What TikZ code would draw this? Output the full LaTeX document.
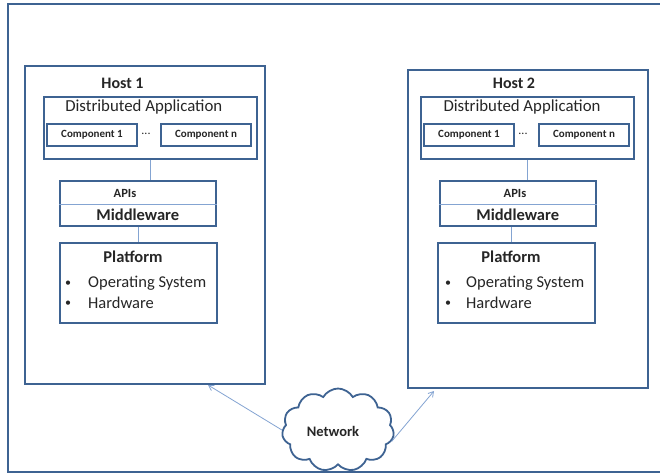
\documentclass[tikz,border=0pt]{standalone}
\usepackage{fontspec}
\setmainfont{Carlito}
\usetikzlibrary{shapes.symbols,arrows.meta}
\definecolor{frameblue}{HTML}{3E6392}
\definecolor{lineblue}{HTML}{84A4D2}
\tikzset{
  box/.style={draw=frameblue, line width=1.8pt, fill=white, rectangle, inner sep=0pt},
  conn/.style={draw=lineblue, line width=0.9pt},
  arr/.style={draw=lineblue, line width=0.8pt, -{Straight Barb[length=5pt,width=6pt]}},
  txt/.style={inner sep=0pt, text=black!85},
  comp/.style={box, minimum width=90pt, minimum height=22pt, font=\bfseries\fontsize{11}{12}\selectfont, text=black!85},
  bul/.style={txt, font=\fontsize{12}{14}\selectfont},
  item/.style={txt, anchor=west, font=\fontsize{16.5}{18}\selectfont},
}
\begin{document}
\begin{tikzpicture}[x=1pt,y=-1pt]
\useasboundingbox (0,0) rectangle (660,474);
\fill[white] (0,0) rectangle (660,474);
% outer frame (right edge off the page)
\draw[frameblue, line width=1.8pt] (8,4) rectangle (680,472);

% ---------- Host 1 ----------
\node[box, minimum width=240pt, minimum height=318pt] (h1) at (145,225) {};
\node[txt, font=\bfseries\fontsize{16}{18}\selectfont] (h1t) at (122.5,83.5) {Host 1};
\node[box, minimum width=213pt, minimum height=62pt] (da1) at (150.5,128) {};
\node[txt, font=\fontsize{16.8}{18}\selectfont] (da1t) at (143.8,107) {Distributed Application};
\node[comp] (c1a) at (92,135) {Component 1};
\node[txt, font=\fontsize{12}{14}\selectfont] (d1) at (146,134) {...};
\node[comp] (cna) at (206,135) {Component n};
\node[box, minimum width=156pt, minimum height=45pt] (mw1) at (138,203.5) {};
\draw[conn] (mw1.west |- 0,204) -- (mw1.east |- 0,204);
\node[txt, font=\bfseries\fontsize{12.5}{14}\selectfont] (api1) at (125,193) {APIs};
\node[txt, font=\bfseries\fontsize{16.5}{18}\selectfont] (mwt1) at (137.8,214.5) {Middleware};
\node[box, minimum width=157pt, minimum height=80pt] (pf1) at (138.5,283) {};
\node[txt, font=\bfseries\fontsize{16.5}{18}\selectfont] (pft1) at (133,257) {Platform};
\node[bul] (b1a) at (68,284) {\textbullet};
\node[item] (os1) at (88,283) {Operating System};
\node[bul] (b1b) at (68,304) {\textbullet};
\node[item] (hw1) at (88,303) {Hardware};
\draw[conn] (da1.south) -- (da1.south |- mw1.north);
\draw[conn] (mw1.south) -- (mw1.south |- pf1.north);

% ---------- Host 2 ----------
\node[box, minimum width=240pt, minimum height=318pt] (h2) at (528,229) {};
\node[txt, font=\bfseries\fontsize{16}{18}\selectfont] (h2t) at (514,83.5) {Host 2};
\node[box, minimum width=213pt, minimum height=62pt] (da2) at (527.5,128) {};
\node[txt, font=\fontsize{16.8}{18}\selectfont] (da2t) at (522,107) {Distributed Application};
\node[comp] (c1b) at (469,135) {Component 1};
\node[txt, font=\fontsize{12}{14}\selectfont] (d2) at (523,134) {...};
\node[comp] (cnb) at (584,135) {Component n};
\node[box, minimum width=156pt, minimum height=45pt] (mw2) at (518,203.5) {};
\draw[conn] (mw2.west |- 0,204) -- (mw2.east |- 0,204);
\node[txt, font=\bfseries\fontsize{12.5}{14}\selectfont] (api2) at (515,193) {APIs};
\node[txt, font=\bfseries\fontsize{16.5}{18}\selectfont] (mwt2) at (517.7,214.5) {Middleware};
\node[box, minimum width=157pt, minimum height=80pt] (pf2) at (516.5,283) {};
\node[txt, font=\bfseries\fontsize{16.5}{18}\selectfont] (pft2) at (511,257) {Platform};
\node[bul] (b2a) at (448,284) {\textbullet};
\node[item] (os2) at (466,283) {Operating System};
\node[bul] (b2b) at (448,304) {\textbullet};
\node[item] (hw2) at (466,303) {Hardware};
\draw[conn] (da2.south) -- (da2.south |- mw2.north);
\draw[conn] ([xshift=-7pt]mw2.south) -- ([xshift=-7pt]mw2.south |- pf2.north);

% ---------- Network ----------
\node[cloud, cloud puffs=11, cloud puff arc=120, draw=frameblue, line width=1.8pt, fill=white,
      minimum width=112pt, minimum height=83pt, inner sep=0pt] (net) at (338,430) {};
\node[txt, font=\bfseries\fontsize{14.5}{16}\selectfont] (nett) at (333,431) {Network};
\coordinate (a1) at (208,385);
\coordinate (a2) at (434,391);
\draw[arr] (net.west) -- (a1);
\draw[arr] (net.-12) -- (a2);
\end{tikzpicture}
\end{document}
